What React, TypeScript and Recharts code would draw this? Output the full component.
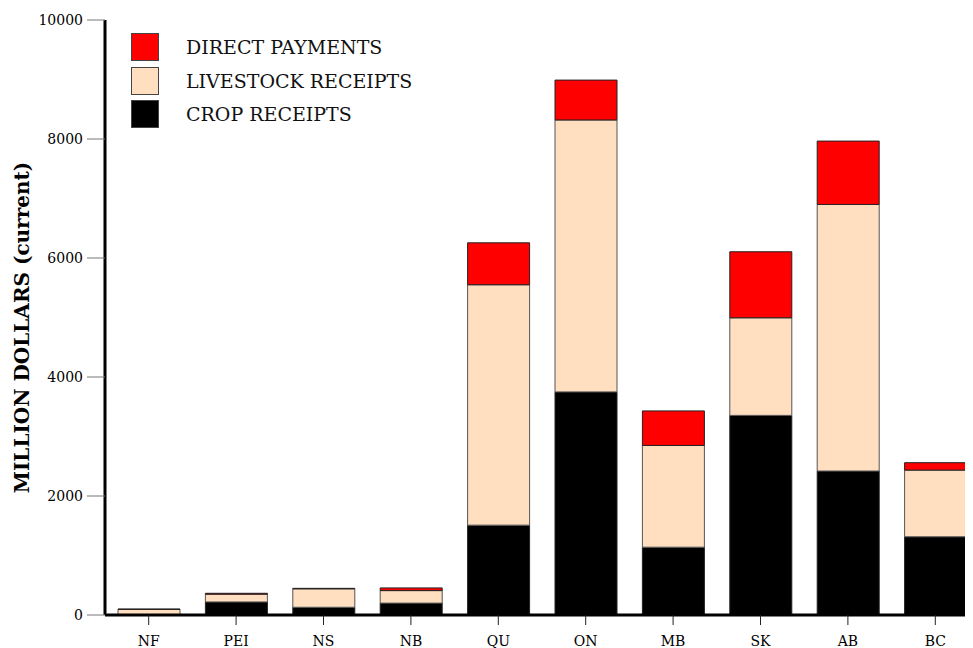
import { BarChart, Bar, XAxis, YAxis, Label } from 'recharts'

const PROVINCES = ['NF', 'PEI', 'NS', 'NB', 'QU', 'ON', 'MB', 'SK', 'AB', 'BC']
const CROP = [5, 220, 130, 200, 1510, 3750, 1140, 3355, 2420, 1315]
const LIVESTOCK = [90, 130, 310, 210, 4040, 4570, 1710, 1640, 4480, 1120]
const DIRECT = [5, 15, 8, 45, 705, 670, 580, 1110, 1065, 125]
const Y_TICKS = [0, 2000, 4000, 6000, 8000, 10000]

const SERIES = [
  { key: 'direct', name: 'DIRECT PAYMENTS', color: '#ff0000' },
  { key: 'livestock', name: 'LIVESTOCK RECEIPTS', color: '#ffdfc0' },
  { key: 'crop', name: 'CROP RECEIPTS', color: '#000000' },
]

const FONT = '"DejaVu Serif", serif'

const chartData = PROVINCES.map((p, i) => ({
  prov: p,
  crop: CROP[i],
  livestock: LIVESTOCK[i],
  direct: DIRECT[i],
}))

// legend drawn as plain html on top of the chart
function LegendBox() {
  return (
    <div style={{ position: 'absolute', left: 123, top: 25, fontFamily: FONT }}>
      {SERIES.map(s => (
        <div key={s.key} style={{ display: 'flex', alignItems: 'center', height: 28, marginBottom: 5.5 }}>
          <span style={{
            width: 26, height: 26, background: s.color, border: '1px solid #444',
            display: 'inline-block', marginRight: 27,
          }} />
          <span style={{ fontSize: 19, color: '#111' }}>{s.name}</span>
        </div>
      ))}
    </div>
  )
}

function YTitle(props: any) {
  const vb = props.viewBox || {}
  const cx = 14
  const cy = vb.y + vb.height / 2 + 10
  return (
    <text
      x={cx} y={cy} transform={`rotate(-90 ${cx} ${cy})`}
      textAnchor="middle" dominantBaseline="central"
      fontFamily={FONT} fontWeight="bold" fontSize={20} fill="#000"
    >
      MILLION DOLLARS (current)
    </text>
  )
}

export default function App() {
  return (
    <div style={{ position: 'relative', width: 965, height: 640, overflow: 'hidden', fontFamily: FONT }}>
      <BarChart
        width={980} height={640} data={chartData}
        margin={{ top: 12, right: 9, left: 0, bottom: 0 }}
        barSize={62}
      >
        <XAxis
          dataKey="prov" height={33}
          axisLine={{ stroke: '#000', strokeWidth: 3 }}
          tickLine={{ stroke: '#222' }} tickSize={10} tickMargin={11}
          tick={{ fontSize: 14, fill: '#000', fontFamily: FONT }}
          interval={0}
        />
        <YAxis
          width={97} domain={[0, 10000]} ticks={Y_TICKS} interval={0}
          axisLine={{ stroke: '#000', strokeWidth: 3 }}
          tickLine={{ stroke: '#777' }} tickSize={18} tickMargin={4}
          tick={{ fontSize: 14, fill: '#000', fontFamily: FONT }}
        >
          <Label content={<YTitle />} />
        </YAxis>
        <Bar dataKey="crop" name="CROP RECEIPTS" stackId="a" fill="#000000" stroke="#222" strokeWidth={1} isAnimationActive={false} />
        <Bar dataKey="livestock" name="LIVESTOCK RECEIPTS" stackId="a" fill="#ffdfc0" stroke="#555" strokeWidth={1} isAnimationActive={false} />
        <Bar dataKey="direct" name="DIRECT PAYMENTS" stackId="a" fill="#ff0000" stroke="#222" strokeWidth={1} isAnimationActive={false} />
      </BarChart>
      <LegendBox />
    </div>
  )
}
